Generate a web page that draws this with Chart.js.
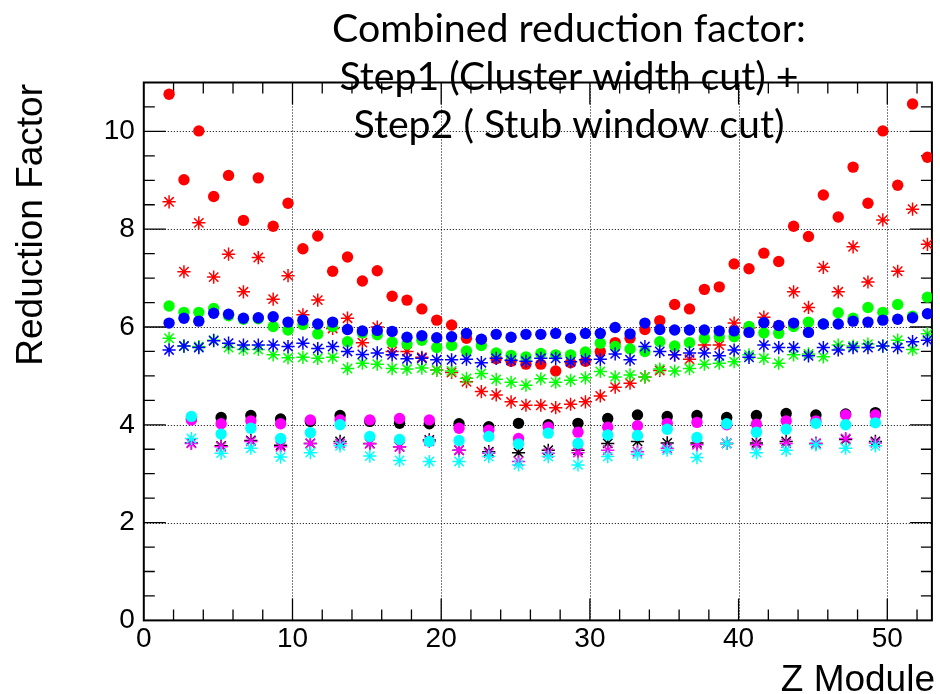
<html>
<head>
<script src="https://cdn.jsdelivr.net/npm/chart.js"></script>
<style>
  body { margin: 0; background: #fff; }
  canvas { display: block; }
</style>
</head>
<body>
<canvas id="reductionChart" width="940" height="694"></canvas>

<script>
// Z module positions (every module, and every second module)
const zAll = [1.7, 2.7, 3.7, 4.7, 5.7, 6.7, 7.7, 8.7, 9.7, 10.7, 11.7, 12.7, 13.7, 14.7, 15.7, 16.7, 17.7, 18.7, 19.7, 20.7,
  21.7, 22.7, 23.7, 24.7, 25.7, 26.7, 27.7, 28.7, 29.7, 30.7, 31.7, 32.7, 33.7, 34.7, 35.7, 36.7, 37.7, 38.7, 39.7, 40.7,
  41.7, 42.7, 43.7, 44.7, 45.7, 46.7, 47.7, 48.7, 49.7, 50.7, 51.7, 52.7];
const zEven = [3.2, 5.2, 7.2, 9.2, 11.2, 13.2, 15.2, 17.2, 19.2, 21.2, 23.2, 25.2, 27.2, 29.2, 31.2, 33.2, 35.2, 37.2, 39.2, 41.2,
  43.2, 45.2, 47.2, 49.2];

// upper group
const redCircle = [10.76, 9.01, 10.01, 8.67, 9.10, 8.18, 9.05, 8.06, 8.53, 7.60, 7.86, 7.14, 7.43, 6.94, 7.15, 6.63, 6.55, 6.37, 6.14, 6.04,
  5.77, 5.74, 5.35, 5.30, 5.24, 5.24, 5.10, 5.27, 5.30, 5.50, 5.68, 5.77, 5.95, 6.13, 6.46, 6.37, 6.77, 6.82, 7.29, 7.19,
  7.51, 7.34, 8.06, 7.85, 8.70, 8.25, 9.27, 8.53, 10.01, 8.90, 10.56, 9.47];
const redStar = [8.56, 7.13, 8.13, 7.02, 7.49, 6.72, 7.42, 6.57, 7.05, 6.25, 6.55, 5.97, 6.18, 5.68, 6.00, 5.50, 5.50, 5.38, 5.12, 5.07,
  4.88, 4.68, 4.61, 4.47, 4.40, 4.40, 4.35, 4.42, 4.47, 4.59, 4.77, 4.85, 4.98, 5.11, 5.43, 5.34, 5.63, 5.63, 6.08, 5.98,
  6.20, 6.01, 6.72, 6.40, 7.22, 6.72, 7.64, 6.92, 8.19, 7.14, 8.41, 7.69];
const greenCircle = [6.43, 6.30, 6.30, 6.38, 6.23, 6.16, 6.17, 6.01, 5.94, 6.05, 5.86, 6.01, 5.70, 5.88, 5.84, 5.69, 5.65, 5.73, 5.58, 5.62,
  5.51, 5.62, 5.47, 5.42, 5.39, 5.46, 5.43, 5.43, 5.49, 5.67, 5.60, 5.55, 5.50, 5.70, 5.61, 5.68, 5.77, 5.80, 5.80, 6.01,
  5.88, 5.87, 6.01, 6.10, 6.06, 6.29, 6.18, 6.40, 6.30, 6.46, 6.22, 6.61];
const greenStar = [5.77, 5.61, 5.60, 5.73, 5.58, 5.54, 5.54, 5.43, 5.37, 5.38, 5.36, 5.38, 5.15, 5.26, 5.24, 5.15, 5.14, 5.16, 5.12, 5.10,
  4.95, 5.05, 4.93, 4.87, 4.81, 4.94, 4.87, 4.91, 4.96, 5.09, 4.98, 5.02, 4.98, 5.14, 5.10, 5.15, 5.24, 5.26, 5.29, 5.43,
  5.36, 5.26, 5.43, 5.45, 5.39, 5.63, 5.61, 5.65, 5.61, 5.73, 5.54, 5.86];
const blueCircle = [6.08, 6.18, 6.12, 6.28, 6.26, 6.18, 6.19, 6.21, 6.10, 6.14, 6.06, 6.10, 5.95, 5.92, 5.93, 5.91, 5.79, 5.82, 5.78, 5.80,
  5.87, 5.75, 5.85, 5.79, 5.85, 5.85, 5.87, 5.77, 5.87, 5.87, 5.99, 5.86, 6.08, 5.95, 5.94, 5.94, 5.94, 5.92, 5.92, 5.89,
  6.09, 6.03, 6.08, 5.89, 6.06, 6.06, 6.12, 6.10, 6.14, 6.16, 6.19, 6.27];
const blueStar = [5.53, 5.61, 5.58, 5.72, 5.67, 5.63, 5.63, 5.63, 5.60, 5.67, 5.56, 5.60, 5.50, 5.44, 5.47, 5.43, 5.35, 5.36, 5.33, 5.33,
  5.34, 5.27, 5.36, 5.32, 5.30, 5.36, 5.36, 5.29, 5.33, 5.34, 5.45, 5.33, 5.60, 5.50, 5.43, 5.47, 5.47, 5.41, 5.53, 5.38,
  5.63, 5.58, 5.58, 5.41, 5.58, 5.53, 5.58, 5.58, 5.61, 5.58, 5.70, 5.73];

// lower group
const blackCircle = [4.12, 4.15, 4.19, 4.12, 4.07, 4.19, 4.07, 4.03, 4.02, 4.02, 3.96, 4.03, 4.00, 4.03, 4.13, 4.20, 4.17, 4.19, 4.15, 4.19,
  4.23, 4.20, 4.22, 4.25];
const magentaCircle = [4.10, 4.02, 4.08, 4.02, 4.10, 4.10, 4.10, 4.13, 4.10, 3.93, 3.89, 3.72, 3.95, 3.85, 3.95, 3.98, 4.03, 4.05, 4.00, 4.01,
  4.08, 4.08, 4.20, 4.20];
const cyanCircle = [4.17, 3.81, 3.93, 3.72, 3.84, 4.00, 3.76, 3.70, 3.66, 3.68, 3.76, 3.61, 3.83, 3.62, 3.79, 3.78, 3.91, 3.74, 4.02, 3.85,
  3.91, 4.03, 4.00, 4.04];
const blackStar = [3.63, 3.57, 3.68, 3.58, 3.62, 3.66, 3.62, 3.55, 3.69, 3.48, 3.45, 3.43, 3.48, 3.48, 3.62, 3.66, 3.63, 3.63, 3.62, 3.63,
  3.66, 3.62, 3.70, 3.66];
const magentaStar = [3.62, 3.55, 3.66, 3.55, 3.62, 3.62, 3.61, 3.55, 3.66, 3.48, 3.42, 3.25, 3.42, 3.43, 3.48, 3.45, 3.52, 3.59, 3.62, 3.59,
  3.62, 3.62, 3.72, 3.63];
const cyanStar = [3.72, 3.42, 3.52, 3.34, 3.43, 3.57, 3.36, 3.27, 3.25, 3.25, 3.35, 3.18, 3.35, 3.18, 3.35, 3.40, 3.48, 3.33, 3.62, 3.43,
  3.48, 3.59, 3.52, 3.57];

const titleLines = ['Combined reduction factor:', 'Step1 (Cluster width cut) +', 'Step2 ( Stub window cut)'];

// drawing order: first = bottom
const series = [
  [zAll, redCircle, '#ff0000', 'circle'],
  [zAll, redStar, '#ff0000', 'star'],
  [zAll, greenCircle, '#00ff00', 'circle'],
  [zAll, greenStar, '#00ff00', 'star'],
  [zAll, blueCircle, '#0000ff', 'circle'],
  [zAll, blueStar, '#0000ff', 'star'],
  [zEven, blackCircle, '#000000', 'circle'],
  [zEven, blackStar, '#000000', 'star'],
  [zEven, magentaCircle, '#ff00ff', 'circle'],
  [zEven, magentaStar, '#ff00ff', 'star'],
  [zEven, cyanCircle, '#00ffff', 'circle'],
  [zEven, cyanStar, '#00ffff', 'star']
];

let datasets = series.map(function(s, i) {
  let star = s[3] == 'star';
  return {
    data: s[0].map((z, j) => ({x: z, y: s[1][j]})),
    pointStyle: s[3],
    pointRadius: star ? 6.6 : 5.7,
    borderWidth: star ? 1.5 : 0,
    borderColor: s[2],
    backgroundColor: s[2],
    order: series.length - i
  };
});

// ROOT style frame, inward ticks and dotted grid
const framePlugin = {
  id: 'frame',
  beforeDatasetsDraw(chart) {
    const ctx = chart.ctx;
    const a = chart.chartArea;
    const xs = chart.scales.x, ys = chart.scales.y;
    ctx.save();
    ctx.strokeStyle = '#000';
    ctx.lineWidth = 1;
    ctx.setLineDash([1, 2]);
    ctx.beginPath();
    for (let v = 10; v <= 50; v += 10) {
      let px = Math.round(xs.getPixelForValue(v)) + 0.5;
      ctx.moveTo(px, a.top); ctx.lineTo(px, a.bottom);
    }
    for (let v = 2; v <= 10; v += 2) {
      let py = Math.round(ys.getPixelForValue(v)) + 0.5;
      ctx.moveTo(a.left, py); ctx.lineTo(a.right, py);
    }
    ctx.stroke();
    ctx.setLineDash([]);

    ctx.lineWidth = 1.3;
    ctx.beginPath();
    for (let v = 2; v <= 52; v += 2) {
      let len = v % 10 == 0 ? 22 : 11;
      let px = xs.getPixelForValue(v);
      ctx.moveTo(px, a.bottom); ctx.lineTo(px, a.bottom - len);
      ctx.moveTo(px, a.top); ctx.lineTo(px, a.top + len);
    }
    for (let v = 0.5; v <= 10.5; v += 0.5) {
      let len = v % 2 == 0 ? 22 : 11;
      let py = ys.getPixelForValue(v);
      ctx.moveTo(a.left, py); ctx.lineTo(a.left + len, py);
      ctx.moveTo(a.right, py); ctx.lineTo(a.right - len, py);
    }
    ctx.stroke();

    ctx.lineWidth = 2;
    ctx.strokeRect(a.left, a.top, a.right - a.left, a.bottom - a.top);
    ctx.restore();
  },
  afterDraw(chart) {
    const ctx = chart.ctx;
    ctx.save();
    ctx.fillStyle = '#000';

    // axis titles
    ctx.font = '37px "Liberation Sans", Arial, sans-serif';
    ctx.textAlign = 'right';
    ctx.textBaseline = 'alphabetic';
    ctx.fillText('Z Module', 935, 691);
    ctx.translate(42, 84);
    ctx.rotate(-Math.PI / 2);
    ctx.fillText('Reduction Factor', 0, 0);
    ctx.setTransform(1, 0, 0, 1, 0, 0);

    // title overlay
    let size = 40;
    ctx.font = size + 'px Lato, "Open Sans", sans-serif';
    let w = ctx.measureText(titleLines[0]).width;
    size = size * 474 / w;
    ctx.font = size + 'px Lato, "Open Sans", sans-serif';
    ctx.textAlign = 'center';
    const baselines = [42, 90, 138];
    titleLines.forEach((t, i) => ctx.fillText(t, 569, baselines[i]));
    ctx.restore();
  }
};

const tickFont = {family: '"Liberation Sans", Arial, sans-serif', size: 28};

new Chart(document.getElementById('reductionChart'), {
  type: 'scatter',
  data: {datasets: datasets},
  options: {
    responsive: false,
    animation: false,
    devicePixelRatio: 1,
    layout: {padding: {left: 0, right: 4, top: 82.5, bottom: 0}},
    plugins: {legend: {display: false}, tooltip: {enabled: false}},
    scales: {
      x: {
        type: 'linear', min: 0, max: 53,
        grid: {display: false, drawTicks: false},
        border: {display: false},
        ticks: {stepSize: 10, includeBounds: false, color: '#000', font: tickFont, padding: 2, maxRotation: 0},
        afterFit: function(scale) { scale.height = 73.6; }
      },
      y: {
        type: 'linear', min: 0, max: 11,
        grid: {display: false, drawTicks: false},
        border: {display: false},
        ticks: {stepSize: 2, includeBounds: false, color: '#000', font: tickFont, padding: 9},
        afterFit: function(scale) { scale.width = 143.8; }
      }
    }
  },
  plugins: [framePlugin]
});
</script>
</body>
</html>
